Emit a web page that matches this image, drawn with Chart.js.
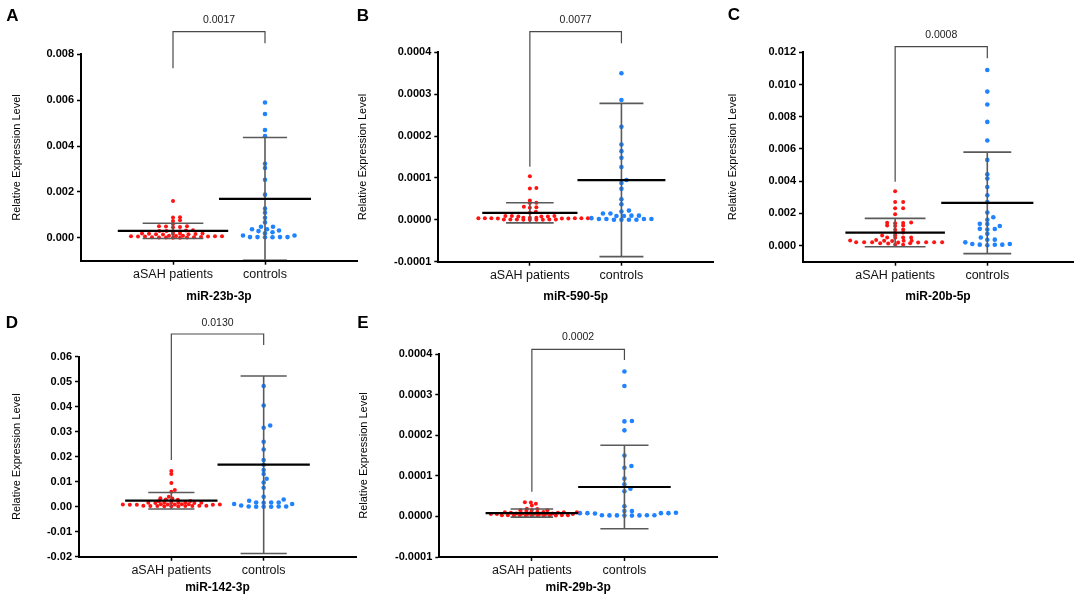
<!DOCTYPE html>
<html>
<head>
<meta charset="utf-8">
<script src="https://cdn.jsdelivr.net/npm/chart.js@4.4.0/dist/chart.umd.min.js"></script>
<style>
  body { margin: 0; background: #fff; }
  #wrap { position: relative; width: 1084px; height: 602px; overflow: hidden; background: #fff; }
  #wrap canvas { position: absolute; }
</style>
</head>
<body>
<div id="wrap">
  <canvas id="cA"></canvas>
  <canvas id="cB"></canvas>
  <canvas id="cC"></canvas>
  <canvas id="cD"></canvas>
  <canvas id="cE"></canvas>
</div>
<script>
// groups on the x axis
const categories = ["aSAH patients", "controls"];

// A - miR-23b-3p
const pat23b = [0.0016, 0.0009, 0.00088, 0.00076, 0.00073, 0.0006, 0.0005, 0.00049, 0.00046, 0.0005, 0.00047,
  0.00033, 0.0003, 0.00027, 0.00032, 0.0003, 0.00026, 0.00019, 0.00017, 0.00015, 0.00018, 0.00017, 0.00014,
  0.00019, 0.00016, 0.00015, 0.00009, 0.00007, 0.00006, 0.00008, 0.00007, 0.00005, 0.00009, 0.00007, 0.00006,
  0.00001, 0.00002, 0.0, 0.00001, 0.00003, 0.0, 0.00001, 0.00002];
const ctl23b = [0.0059, 0.0054, 0.0047, 0.00443, 0.00323, 0.00304, 0.00253, 0.00188, 0.00127, 0.00109, 0.00087,
  0.00067, 0.00048, 0.00048, 0.00037, 0.00037, 0.00032, 0.00029, 0.00024, 0.0002, 0.0001, 0.0001, 0.00003,
  0.00003, 0.00002, 0.00003, 0.00002, 0.00003];
const mean23b = [0.0003, 0.0017];
const sd23b = [0.00033, 0.00267];
const ticks23b = [0, 0.002, 0.004, 0.006, 0.008];
const range23b = [-0.001, 0.008];

// B - miR-590-5p
const pat590 = [0.000104, 0.000076, 0.000075, 0.000046, 0.000041, 0.00004, 0.000031, 0.00003, 0.000029,
  0.000019, 0.000017, 0.000009, 0.000008, 0.000009, 0.000008, 0.000009, 0.000008, 0.000004, 0.000005,
  0.000004, 0.000003, 0.000004, 0.000005, 0.000004, 0.000003, 0.000004, 0.000005, 0.000004, 0.000003,
  0.000001, 0.0, 0.000001, 0.0, 0.000001, 0.0, 0.000001, 0.0, 0.000001];
const ctl590 = [0.00035, 0.000286, 0.000222, 0.00018, 0.000164, 0.000148, 0.000126, 0.000095, 0.000088,
  0.000074, 0.000049, 0.000037, 0.000022, 0.00002, 0.000015, 0.000015, 0.00001, 0.00001, 0.000009, 0.000009,
  0.000004, 0.000002, 0.000002, 0.000002, 0.000002, 0.0, 0.0, 0.0, 0.0];
const mean590 = [0.0000167, 0.000095];
const sd590 = [0.000024, 0.000183];
const ticks590 = [-0.0001, 0, 0.0001, 0.0002, 0.0003, 0.0004];
const range590 = [-0.0001, 0.0004];

// C - miR-20b-5p
const pat20b = [0.00337, 0.0027, 0.0027, 0.00232, 0.00232, 0.00194, 0.00142, 0.0014, 0.00143, 0.00139, 0.00125,
  0.00124, 0.00122, 0.001, 0.00098, 0.0008, 0.00082, 0.00064, 0.00062, 0.0005, 0.0005, 0.00049, 0.00051,
  0.00035, 0.0003, 0.00031, 0.0003, 0.00029, 0.0003, 0.0002, 0.00021, 0.0002, 0.00019, 0.0002, 0.00021,
  0.0002, 0.00019, 0.00014, 0.00015, 0.00013, 0.00006, 0.00005];
const ctl20b = [0.0109, 0.00956, 0.00876, 0.00768, 0.00652, 0.00532, 0.00443, 0.00416, 0.00364, 0.00313,
  0.0027, 0.00205, 0.00176, 0.0016, 0.00135, 0.00134, 0.00122, 0.00104, 0.00103, 0.001, 0.00073, 0.0005,
  0.00037, 0.00036, 0.0002, 0.0001, 0.0001, 0.00006, 0.00005, 0.00006, 0.00002];
const mean20b = [0.00081, 0.00265];
const sd20b = [0.00088, 0.00315];
const ticks20b = [0, 0.002, 0.004, 0.006, 0.008, 0.010, 0.012];
const range20b = [-0.001, 0.012];

// D - miR-142-3p
const pat142 = [0.0143, 0.0131, 0.0095, 0.0067, 0.006, 0.004, 0.0033, 0.0034, 0.0029, 0.0028, 0.0023, 0.0024,
  0.0022, 0.0016, 0.0017, 0.0015, 0.0016, 0.0017, 0.0015, 0.0016, 0.0017, 0.0009, 0.001, 0.0008, 0.0009,
  0.001, 0.0008, 0.0009, 0.001, 0.0008, 0.0009, 0.0003, 0.0004, 0.0002, 0.0003, 0.0004, 0.0002, 0.0003,
  0.0004, 0.0002, 0.0003];
const ctl142 = [0.0483, 0.0405, 0.0325, 0.0316, 0.026, 0.0229, 0.0187, 0.0168, 0.0147, 0.0131, 0.0112, 0.0097,
  0.0076, 0.004, 0.0029, 0.0024, 0.0017, 0.0017, 0.0016, 0.0017, 0.0011, 0.0011, 0.0005, 0.0, 0.0001, 0.0,
  0.0001, 0.0, 0.0001];
const mean142 = [0.0024, 0.0168];
const sd142 = [0.0033, 0.0355];
const ticks142 = [-0.02, -0.01, 0, 0.01, 0.02, 0.03, 0.04, 0.05, 0.06];
const range142 = [-0.02, 0.06];

// E - miR-29b-3p
const pat29b = [0.000035, 0.000034, 0.000031, 0.000027, 0.000019, 0.000018, 0.000015, 0.000014, 0.000015,
  0.000016, 0.00001, 0.000011, 0.000009, 0.00001, 0.000011, 0.000009, 0.00001, 0.000011, 0.0000066,
  0.000007, 0.000006, 0.0000066, 0.000007, 0.000006, 0.0000066, 0.000007, 0.000006, 0.0000066, 0.0000025,
  0.000003, 0.000002, 0.0000025, 0.000003, 0.000002, 0.0000025, 0.000003, 0.000002, 0.0000025, 0.000003,
  0.000002];
const ctl29b = [0.000357, 0.000321, 0.000235, 0.000234, 0.000212, 0.00015, 0.000124, 0.00012, 0.000093,
  0.000079, 0.000068, 0.000062, 0.000025, 0.000008, 0.000008, 0.000009, 0.000007, 0.000008, 0.000008,
  0.000013, 0.000013, 0.0000025, 0.000003, 0.000002, 0.0000025, 0.000003, 0.000002, 0.0000025, 0.000003];
const mean29b = [0.0000082, 0.0000724];
const sd29b = [0.00001, 0.000103];
const ticks29b = [-0.0001, 0, 0.0001, 0.0002, 0.0003, 0.0004];
const range29b = [-0.0001, 0.0004];

const RED = "#ff1414";
const BLUE = "#1f82ff";
const FONT = '"Liberation Sans", Arial, Helvetica, sans-serif';

// page layout of each panel (canvas box + plot area in page px)
// spread: dot spacing [horizontal, vertical] in px for patients / controls
const panels = [
  { id: "cA", letter: "A", gene: "miR-23b-3p", p: "0.0017", pat: pat23b, ctl: ctl23b, mean: mean23b, sd: sd23b,
    ticks: ticks23b, range: range23b, dec: 3,
    box: { l: 0, t: 0, w: 360, h: 310 }, area: { l: 81, r: 357, t: 54.3, b: 260.7 }, xMax: 3,
    yTitlePad: 10, xTitlePad: 6, letterXY: [12.5, 16],
    bracket: { top: 31.7, left: 68.3, right: 43.3, label: 20 },
    meanHalf: [0.6, 0.5], capHalf: [0.33, 0.24], spread: [[7, 2], [7.3, 4]] },
  { id: "cB", letter: "B", gene: "miR-590-5p", p: "0.0077", pat: pat590, ctl: ctl590, mean: mean590, sd: sd590,
    ticks: ticks590, range: range590, dec: 4,
    box: { l: 345, t: 0, w: 375, h: 310 }, area: { l: 438.3, r: 713, t: 52.3, b: 261.7 }, xMax: 3,
    yTitlePad: 11.4, xTitlePad: 6, letterXY: [18, 16],
    bracket: { top: 31.7, left: 166.7, right: 43.3, label: 20 },
    meanHalf: [0.52, 0.48], capHalf: [0.26, 0.24], spread: [[6.3, 2], [7.3, 4]] },
  { id: "cC", letter: "C", gene: "miR-20b-5p", p: "0.0008", pat: pat20b, ctl: ctl20b, mean: mean20b, sd: sd20b,
    ticks: ticks20b, range: range20b, dec: 3,
    box: { l: 705, t: 0, w: 379, h: 310 }, area: { l: 803, r: 1073, t: 52.3, b: 261.7 }, xMax: 2.93,
    yTitlePad: 21.7, xTitlePad: 6, letterXY: [29, 15],
    bracket: { top: 46.7, left: 181.7, right: 58.3, label: 35 },
    meanHalf: [0.54, 0.5], capHalf: [0.33, 0.26], spread: [[8, 2.4], [7.3, 4]] },
  { id: "cD", letter: "D", gene: "miR-142-3p", p: "0.0130", pat: pat142, ctl: ctl142, mean: mean142, sd: sd142,
    ticks: ticks142, range: range142, dec: 2,
    box: { l: 0, t: 300, w: 360, h: 302 }, area: { l: 79, r: 356, t: 356.7, b: 556.7 }, xMax: 3,
    yTitlePad: 10, xTitlePad: 6.8, letterXY: [12, 23],
    bracket: { top: 34, left: 160, right: 45, label: 23.3 },
    meanHalf: [0.5, 0.5], capHalf: [0.25, 0.25], spread: [[7, 2], [7.3, 4]] },
  { id: "cE", letter: "E", gene: "miR-29b-3p", p: "0.0002", pat: pat29b, ctl: ctl29b, mean: mean29b, sd: sd29b,
    ticks: ticks29b, range: range29b, dec: 4,
    box: { l: 345, t: 300, w: 375, h: 302 }, area: { l: 439.3, r: 717, t: 354, b: 557 }, xMax: 3,
    yTitlePad: 12.4, xTitlePad: 6.8, letterXY: [18, 23],
    bracket: { top: 49.3, left: 191.7, right: 60, label: 37.3 },
    meanHalf: [0.5, 0.5], capHalf: [0.23, 0.26], spread: [[6, 2], [7.3, 4]] }
];

// horizontal spread so close values sit side by side (dot plot layout)
function swarmOffsets(pix, dx, dy) {
  const order = pix.map((_, i) => i).sort((a, b) => pix[b] - pix[a]);
  const placed = [];
  const out = new Array(pix.length).fill(0);
  order.forEach(i => {
    const y = pix[i];
    const near = placed.filter(q => Math.abs(q.y - y) < dy);
    let off = 0;
    for (let k = 0; k < 800; k++) {
      const c = (k % 2 ? 1 : -1) * Math.ceil(k / 2) * 0.5;
      const ok = near.every(q => {
        const ex = (q.x - c) / dx, ey = (q.y - y) / dy;
        return ex * ex + ey * ey >= 1;
      });
      if (ok) { off = c; break; }
    }
    placed.push({ x: off, y: y });
    out[i] = off;
  });
  return out;
}

function strokeLine(ctx, x1, y1, x2, y2) {
  ctx.beginPath();
  ctx.moveTo(x1, y1);
  ctx.lineTo(x2, y2);
  ctx.stroke();
}

function makePanel(p) {
  const cv = document.getElementById(p.id);
  cv.width = p.box.w;
  cv.height = p.box.h;
  cv.style.left = p.box.l + "px";
  cv.style.top = p.box.t + "px";
  cv.style.width = p.box.w + "px";
  cv.style.height = p.box.h + "px";

  const yW = p.area.l - p.box.l;
  const xH = p.box.t + p.box.h - p.area.b;

  // mean line, SD whiskers and caps
  const errorBars = {
    id: "errorBars",
    afterDatasetsDraw(chart) {
      const { ctx, chartArea: a, scales: { x, y } } = chart;
      ctx.save();
      ctx.beginPath();
      ctx.rect(a.left, a.top - 2, a.right - a.left, a.bottom - a.top + 1);
      ctx.clip();
      [0, 1].forEach(g => {
        const cx = x.getPixelForValue(g + 1);
        const m = p.mean[g], s = p.sd[g];
        const yt = y.getPixelForValue(m + s);
        const yb = y.getPixelForValue(m - s);
        const ym = y.getPixelForValue(m);
        const cw = x.getPixelForValue(g + 1 + p.capHalf[g]) - cx;
        const mw = x.getPixelForValue(g + 1 + p.meanHalf[g]) - cx;
        ctx.strokeStyle = "#5a5a5a";
        ctx.lineWidth = 1.6;
        strokeLine(ctx, cx, yt, cx, yb);
        strokeLine(ctx, cx - cw, yt, cx + cw, yt);
        strokeLine(ctx, cx - cw, yb, cx + cw, yb);
        ctx.strokeStyle = "#000";
        ctx.lineWidth = 2.2;
        strokeLine(ctx, cx - mw, ym, cx + mw, ym);
      });
      ctx.restore();
    }
  };

  // significance bracket, p value and panel letter
  const annotations = {
    id: "annotations",
    afterDraw(chart) {
      const { ctx, scales: { x } } = chart;
      const x1 = x.getPixelForValue(1), x2 = x.getPixelForValue(2);
      const b = p.bracket;
      ctx.save();
      ctx.strokeStyle = "#4a4a4a";
      ctx.lineWidth = 1.2;
      ctx.beginPath();
      ctx.moveTo(x1, b.left);
      ctx.lineTo(x1, b.top);
      ctx.lineTo(x2, b.top);
      ctx.lineTo(x2, b.right);
      ctx.stroke();
      ctx.fillStyle = "#222";
      ctx.font = "10.5px " + FONT;
      ctx.textAlign = "center";
      ctx.textBaseline = "middle";
      ctx.fillText(p.p, (x1 + x2) / 2, b.label);
      ctx.fillStyle = "#000";
      ctx.font = "bold 17px " + FONT;
      ctx.fillText(p.letter, p.letterXY[0], p.letterXY[1]);
      ctx.restore();
    }
  };

  const chart = new Chart(cv, {
    type: "scatter",
    data: {
      datasets: [
        { data: p.pat.map(v => ({ x: 1, y: v })), backgroundColor: RED, pointRadius: 2,
          pointHoverRadius: 2, pointBorderWidth: 0 },
        { data: p.ctl.map(v => ({ x: 2, y: v })), backgroundColor: BLUE, pointRadius: 2.3,
          pointHoverRadius: 2.3, pointBorderWidth: 0 }
      ]
    },
    options: {
      responsive: false,
      animation: false,
      events: [],
      layout: {
        padding: {
          left: 0,
          top: p.area.t - p.box.t,
          right: p.box.l + p.box.w - p.area.r,
          bottom: 0
        }
      },
      plugins: { legend: { display: false }, tooltip: { enabled: false } },
      scales: {
        x: {
          type: "linear",
          min: 0,
          max: p.xMax,
          afterBuildTicks: s => { s.ticks = [{ value: 1 }, { value: 2 }]; },
          afterFit: s => { s.height = xH; },
          ticks: {
            callback: v => categories[Math.round(v) - 1],
            color: "#111",
            font: { family: FONT, size: 12.5 },
            padding: 2,
            maxRotation: 0,
            autoSkip: false
          },
          grid: { drawOnChartArea: false, drawTicks: true, tickLength: 4, tickWidth: 1.5, color: "#000" },
          border: { display: true, color: "#000", width: 2 },
          title: {
            display: true,
            text: p.gene,
            color: "#000",
            font: { family: FONT, size: 12, weight: "bold" },
            padding: { top: 0, bottom: p.xTitlePad }
          }
        },
        y: {
          min: p.range[0],
          max: p.range[1],
          afterBuildTicks: s => { s.ticks = p.ticks.map(v => ({ value: v })); },
          afterFit: s => { s.width = yW; },
          ticks: {
            callback: v => Number(v).toFixed(p.dec),
            color: "#000",
            font: { family: FONT, size: 11, weight: "bold" },
            padding: 3
          },
          grid: { drawOnChartArea: false, drawTicks: true, tickLength: 4, tickWidth: 1.5, color: "#000" },
          border: { display: true, color: "#000", width: 2 },
          title: {
            display: true,
            text: "Relative Expression Level",
            color: "#000",
            font: { family: FONT, size: 11 },
            padding: { top: p.yTitlePad, bottom: 0 }
          }
        }
      }
    },
    plugins: [errorBars, annotations]
  });

  // spread the dots sideways using the chart's own scales
  const xs = chart.scales.x, ys = chart.scales.y;
  const pxPerUnit = xs.getPixelForValue(1) - xs.getPixelForValue(0);
  [p.pat, p.ctl].forEach((vals, g) => {
    const offs = swarmOffsets(vals.map(v => ys.getPixelForValue(v)), p.spread[g][0], p.spread[g][1]);
    chart.data.datasets[g].data = vals.map((v, k) => ({ x: g + 1 + offs[k] / pxPerUnit, y: v }));
  });
  chart.update("none");
}

panels.forEach(makePanel);
</script>
</body>
</html>
